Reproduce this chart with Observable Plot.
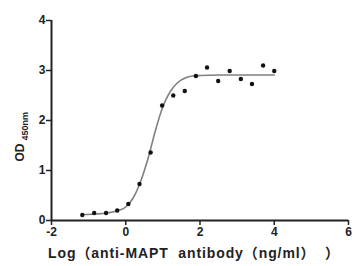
<!DOCTYPE html>
<html>
<head>
<meta charset="utf-8">
<script src="https://cdn.jsdelivr.net/npm/d3@7"></script>
<script src="https://cdn.jsdelivr.net/npm/@observablehq/plot@0.6"></script>
<style>
  html, body { margin: 0; padding: 0; background: #fff; }
</style>
</head>
<body>
<div id="chart"></div>
<script>
// Measured points: log concentration vs OD450
const logConc = [-1.17, -0.85, -0.53, -0.23, 0.07, 0.37, 0.67, 0.98, 1.28, 1.59, 1.89, 2.19, 2.49, 2.80, 3.10, 3.40, 3.70, 4.00];
const od      = [0.11, 0.15, 0.15, 0.20, 0.33, 0.73, 1.36, 2.30, 2.50, 2.59, 2.89, 3.06, 2.79, 2.99, 2.83, 2.73, 3.10, 2.99];

// Fitted curve
const curveX = [-1.17, -0.8, -0.5, -0.2, 0.0, 0.2, 0.4, 0.6, 0.8, 1.0, 1.2, 1.4, 1.6, 1.8, 2.0, 2.5, 3.0, 4.0];
const curveY = [0.12, 0.13, 0.15, 0.20, 0.27, 0.45, 0.78, 1.24, 1.80, 2.28, 2.58, 2.76, 2.85, 2.89, 2.90, 2.91, 2.91, 2.91];

const xTicks = [-2, 0, 2, 4, 6];
const yTicks = [0, 1, 2, 3, 4];
const xLabel = "Log（anti-MAPT\u00a0\u00a0antibody（ng/ml）\u00a0\u00a0）";
const yLabel = "OD";
const ySub = "450nm";

const points = logConc.map((x, i) => ({x, y: od[i]}));
const curve = curveX.map((x, i) => ({x, y: curveY[i]}));

const font = "'Liberation Sans', Arial, 'Noto Sans CJK SC', sans-serif";

const chart = Plot.plot({
  width: 354,
  height: 266,
  marginLeft: 51,
  marginRight: 6,
  marginTop: 20,
  marginBottom: 46,
  style: {fontFamily: font, fontWeight: "bold", fontSize: "12px", color: "#222", background: "#fff"},
  x: {domain: [-2, 6]},
  y: {domain: [0, 4]},
  marks: [
    Plot.axisX({ticks: xTicks, tickSize: 5, tickPadding: 2, tickFormat: d => String(d), label: null, strokeWidth: 1.5, fontSize: 12, fontWeight: "bold"}),
    Plot.axisY({ticks: yTicks, tickSize: 5, tickPadding: 1, tickFormat: d => String(d), label: null, strokeWidth: 1.5, fontSize: 12, fontWeight: "bold"}),
    Plot.ruleY([0], {stroke: "#222", strokeWidth: 2}),
    Plot.ruleX([-2], {stroke: "#222", strokeWidth: 2}),
    Plot.line(curve, {x: "x", y: "y", curve: "monotone-x", stroke: "#808080", strokeWidth: 1.6}),
    Plot.dot(points, {x: "x", y: "y", r: 2.2, fill: "#111", stroke: null}),
    Plot.text([xLabel], {frameAnchor: "bottom", dy: 37, dx: -6, fontSize: 14, fontWeight: "bold", fill: "#222"}),
    Plot.text([yLabel], {frameAnchor: "left", rotate: -90, textAnchor: "start", lineAnchor: "middle", dx: -31, dy: 41, fontSize: 12, fontWeight: "bold", fill: "#222"}),
    Plot.text([ySub], {frameAnchor: "left", rotate: -90, textAnchor: "start", lineAnchor: "middle", dx: -26, dy: 20, fontSize: 9, fontWeight: "bold", fill: "#222"})
  ]
});
d3.select(chart).selectAll("text").filter(function() { return this.textContent === xLabel; })
  .attr("letter-spacing", "0.9px").attr("text-anchor", "middle");
document.getElementById("chart").appendChild(chart);
</script>
</body>
</html>
